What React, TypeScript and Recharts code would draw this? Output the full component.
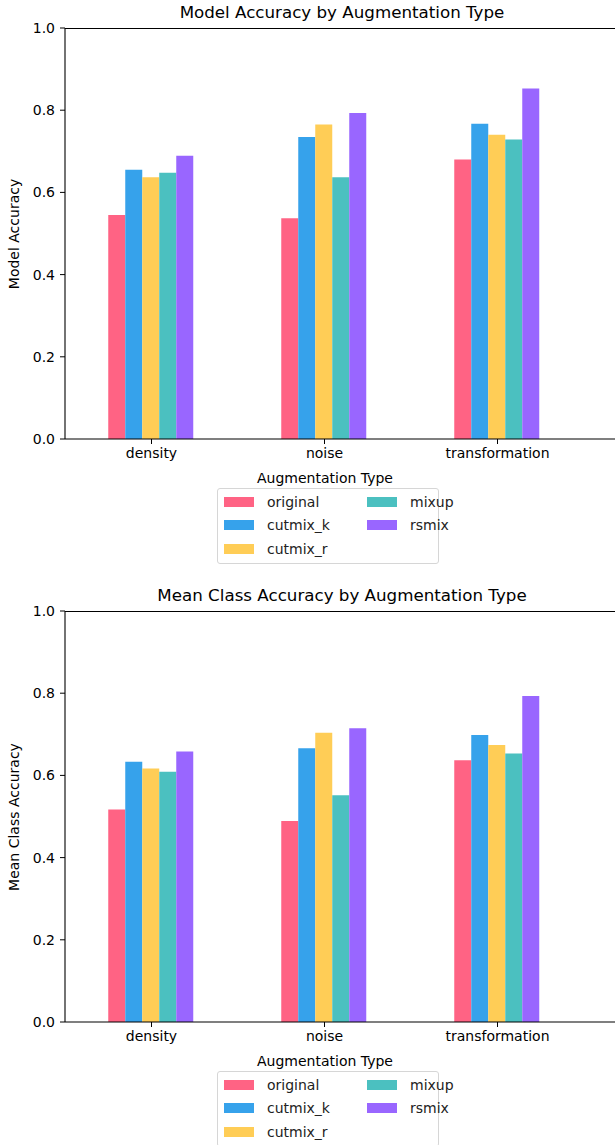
import { BarChart, Bar, XAxis, YAxis } from 'recharts'

const categories = ['density', 'noise', 'transformation']
const seriesNames = ['original', 'cutmix_k', 'cutmix_r', 'mixup', 'rsmix']
const seriesColors = ['#ff6384', '#36a2eb', '#ffcd56', '#4bc0c0', '#9966ff']
const yTicks = [0, 0.2, 0.4, 0.6, 0.8, 1.0]

// Model accuracy
const modelOriginal = [0.545, 0.537, 0.68]
const modelCutmixK = [0.655, 0.735, 0.767]
const modelCutmixR = [0.637, 0.765, 0.74]
const modelMixup = [0.648, 0.637, 0.729]
const modelRsmix = [0.689, 0.793, 0.853]

// Mean class accuracy
const classOriginal = [0.517, 0.489, 0.637]
const classCutmixK = [0.633, 0.666, 0.698]
const classCutmixR = [0.617, 0.704, 0.674]
const classMixup = [0.609, 0.552, 0.653]
const classRsmix = [0.658, 0.715, 0.793]

const FONT = '"DejaVu Sans", sans-serif'

function buildRows(cols: number[][]) {
  return categories.map((c, i) => {
    const row: Record<string, string | number> = { category: c }
    seriesNames.forEach((s, j) => { row[s] = cols[j][i] })
    return row
  })
}

const modelData = buildRows([modelOriginal, modelCutmixK, modelCutmixR, modelMixup, modelRsmix])
const classData = buildRows([classOriginal, classCutmixK, classCutmixR, classMixup, classRsmix])

function LegendBox({ top }: { top: number }) {
  const item = (i: number, x: number, y: number) => (
    <div key={i} style={{ position: 'absolute', left: x, top: y, display: 'flex', alignItems: 'center', height: 20 }}>
      <div style={{ width: 30, height: 10, background: seriesColors[i] }} />
      <span style={{ marginLeft: 13, fontSize: 14, color: '#222' }}>{seriesNames[i]}</span>
    </div>
  )
  return (
    <div style={{
      position: 'absolute', left: 217, top, width: 220, height: 74, border: '1px solid #d6d6d6',
      borderRadius: 3, background: 'rgba(255,255,255,0.8)', fontFamily: FONT,
    }}>
      {item(0, 6, 3)}
      {item(1, 6, 26)}
      {item(2, 6, 50)}
      {item(3, 149, 3)}
      {item(4, 149, 26)}
    </div>
  )
}

function Panel({ top, title, ylabel, data }: { top: number; title: string; ylabel: string; data: Record<string, string | number>[] }) {
  return (
    <div style={{ position: 'absolute', left: 0, top, width: 615, height: 560, fontFamily: FONT }}>
      <div style={{ position: 'absolute', left: 342, top: 12, transform: 'translate(-50%,-50%)', fontSize: 16.7, whiteSpace: 'nowrap', color: '#000' }}>
        {title}
      </div>
      <div style={{ position: 'absolute', left: 14, top: 234, transform: 'translate(-50%,-50%) rotate(-90deg)', fontSize: 14, whiteSpace: 'nowrap', color: '#000' }}>
        {ylabel}
      </div>
      <div style={{ position: 'absolute', left: 0, top: 0 }}>
        <BarChart width={615} height={470} data={data} margin={{ top: 28, right: 0, left: 0, bottom: 0 }}
          barCategoryGap="25%" barGap={0}
        >
          <XAxis dataKey="category" height={31} padding={{ left: 0, right: 31 }}
            axisLine={{ stroke: '#000', strokeWidth: 1.1 }} tickLine={{ stroke: '#000' }} tickSize={5} tickMargin={4}
            tick={{ fontSize: 14, fill: '#000', fontFamily: FONT }} interval={0} />
          <YAxis domain={[0, 1]} ticks={yTicks} width={65} tickFormatter={(v: number) => v.toFixed(1)}
            axisLine={{ stroke: '#000', strokeWidth: 1.1 }} tickLine={{ stroke: '#000' }} tickSize={5} tickMargin={5}
            tick={{ fontSize: 14, fill: '#000', fontFamily: FONT }} allowDataOverflow />
          {seriesNames.map((s, i) => (
            <Bar key={s} dataKey={s} fill={seriesColors[i]} isAnimationActive={false} />
          ))}
        </BarChart>
      </div>
      {/* top spine */}
      <div style={{ position: 'absolute', left: 65, top: 28, width: 550, height: 1, background: '#000' }} />
      <div style={{ position: 'absolute', left: 325, top: 478, transform: 'translate(-50%,-50%)', fontSize: 14, whiteSpace: 'nowrap', color: '#000' }}>
        Augmentation Type
      </div>
      <LegendBox top={488} />
    </div>
  )
}

export default function App() {
  return (
    <div style={{ position: 'absolute', left: 0, top: 0, width: 615, height: 1145, overflow: 'hidden', background: '#fff' }}>
      <Panel top={0} title="Model Accuracy by Augmentation Type" ylabel="Model Accuracy" data={modelData} />
      <Panel top={583} title="Mean Class Accuracy by Augmentation Type" ylabel="Mean Class Accuracy" data={classData} />
    </div>
  )
}
